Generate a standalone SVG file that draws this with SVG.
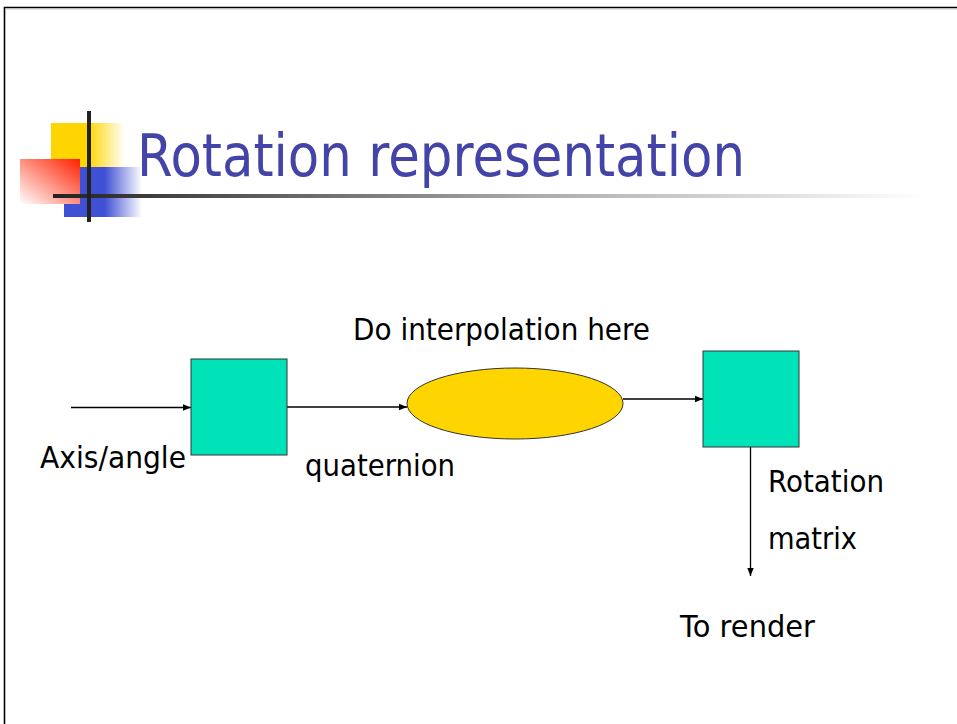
<svg xmlns="http://www.w3.org/2000/svg" width="957" height="724" viewBox="0 0 957 724">
<defs>
<linearGradient id="gy" x1="0" y1="0" x2="1" y2="0"><stop offset="0" stop-color="#FFD500"/><stop offset="0.5" stop-color="#FFD500"/><stop offset="1" stop-color="#FFFFFF"/></linearGradient>
<linearGradient id="gb" x1="0" y1="0" x2="1" y2="0"><stop offset="0" stop-color="#4050D4"/><stop offset="0.52" stop-color="#4050D4"/><stop offset="1" stop-color="#FFFFFF"/></linearGradient>
<linearGradient id="gr" x1="1" y1="0" x2="0" y2="1"><stop offset="0" stop-color="#FF2000"/><stop offset="1" stop-color="#FFFFFF"/></linearGradient>
<linearGradient id="gl" x1="0" y1="0" x2="1" y2="0"><stop offset="0" stop-color="#222222"/><stop offset="0.55" stop-color="#AAAAAA"/><stop offset="1" stop-color="#FFFFFF"/></linearGradient>
<marker id="ah" markerWidth="8" markerHeight="8" refX="8" refY="4" orient="auto" markerUnits="userSpaceOnUse"><path d="M0,0.8 L8,4 L0,7.2 Z" fill="#000"/></marker>
<style>
.lbl{font-family:"DejaVu Sans",Verdana,sans-serif;font-size:29.5px;fill:#000}
.box{fill:#00E3B9;stroke:#333;stroke-width:1}
.con{stroke:#000;stroke-width:1.3;fill:none;marker-end:url(#ah)}
</style>
</defs>
<rect x="0" y="0" width="957" height="724" fill="#fff"/>
<path d="M4.5,724 V7.5 H957" fill="none" stroke="#000" stroke-width="1.6"/>
<line x1="5" y1="9" x2="957" y2="9" stroke="#bbb" stroke-width="0.8"/>
<g id="logo">
<rect x="51" y="123" width="74" height="44" fill="url(#gy)"/>
<rect x="64" y="167" width="78" height="50" fill="url(#gb)"/>
<rect x="20" y="159" width="60" height="45" fill="url(#gr)"/>
<rect x="53" y="194" width="870" height="4" fill="url(#gl)"/>
<rect x="87" y="111" width="4" height="111" fill="#222"/>
</g>
<text x="137" y="176" font-family="DejaVu Sans,Verdana,sans-serif" font-size="58" fill="#4343A8" textLength="608" lengthAdjust="spacingAndGlyphs">Rotation representation</text>
<g id="connectors">
<line class="con" x1="71" y1="407.5" x2="191" y2="407.5"/>
<line class="con" x1="287" y1="407" x2="407" y2="407"/>
<line class="con" x1="623" y1="399" x2="703" y2="399"/>
<line class="con" x1="750.5" y1="447" x2="750.5" y2="576"/>
</g>
<g id="box1"><rect class="box" x="191" y="359" width="96" height="96"/></g>
<g id="interp"><ellipse cx="515" cy="403.5" rx="108" ry="35.5" fill="#FFD500" stroke="#333" stroke-width="1"/></g>
<g id="box2"><rect class="box" x="703" y="351" width="96" height="96"/></g>
<g id="labels">
<text class="lbl" x="40" y="468" textLength="146" lengthAdjust="spacingAndGlyphs">Axis/angle</text>
<text class="lbl" x="305" y="476" textLength="150" lengthAdjust="spacingAndGlyphs">quaternion</text>
<text class="lbl" x="353" y="340" textLength="297" lengthAdjust="spacingAndGlyphs">Do interpolation here</text>
<text class="lbl" x="768" y="492" textLength="116" lengthAdjust="spacingAndGlyphs">Rotation</text>
<text class="lbl" x="768" y="549" textLength="89" lengthAdjust="spacingAndGlyphs">matrix</text>
<text class="lbl" x="680" y="637" textLength="135" lengthAdjust="spacingAndGlyphs">To render</text>
</g>
</svg>
